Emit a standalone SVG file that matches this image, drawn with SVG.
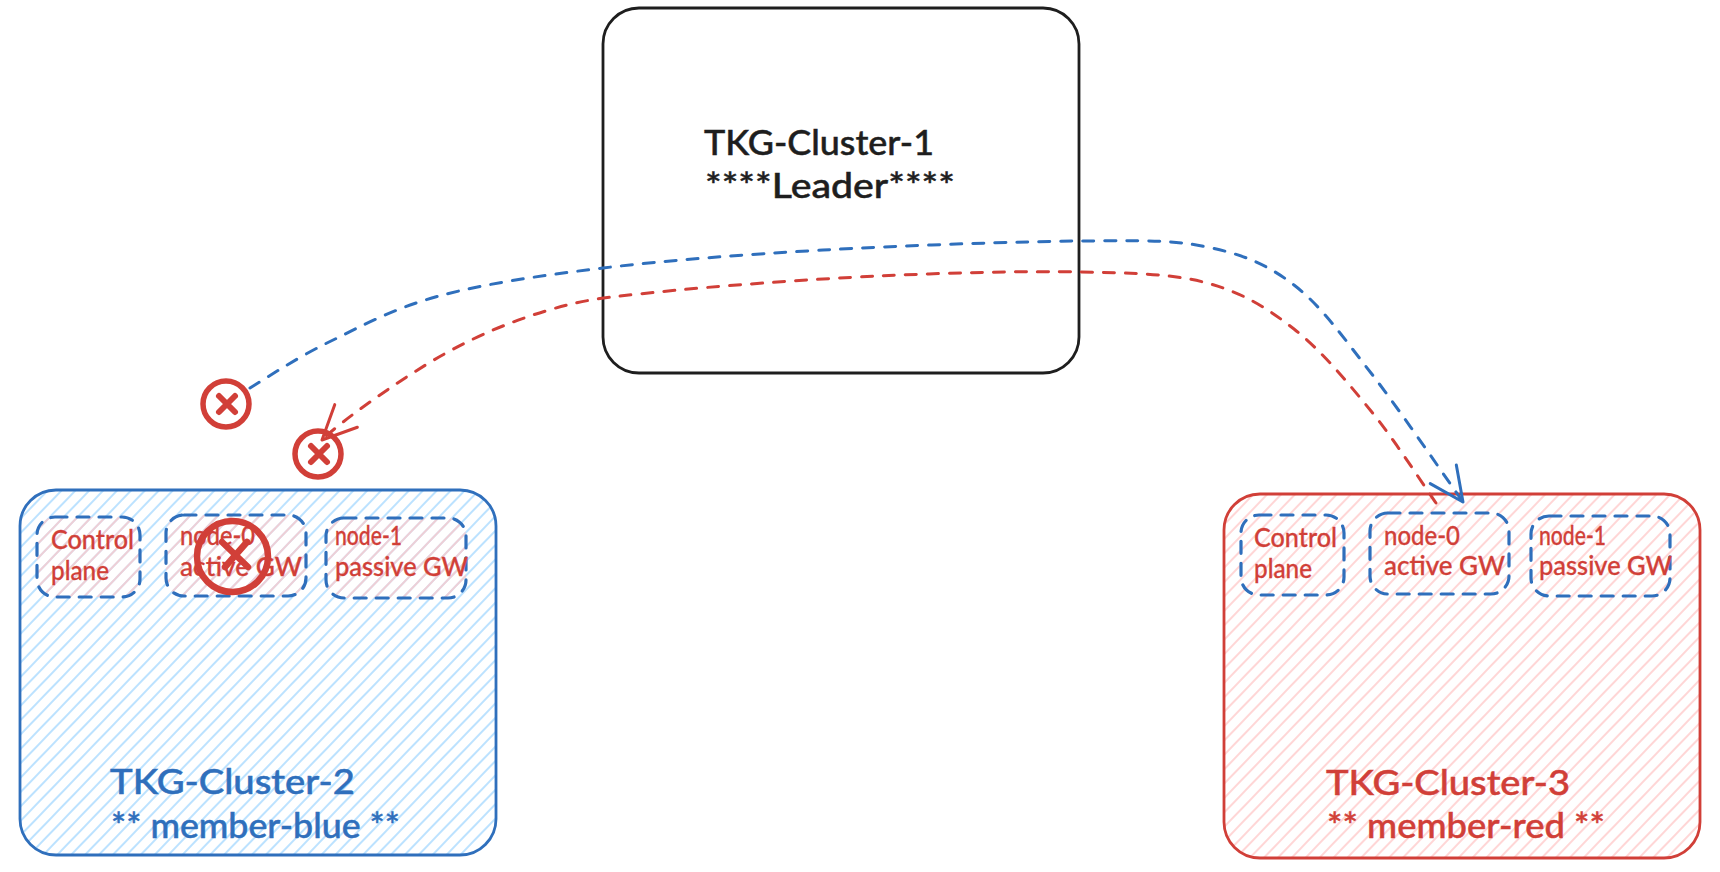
<svg xmlns="http://www.w3.org/2000/svg" width="1720" height="872" viewBox="0 0 1720 872">
<style>
text{font-family:"Lato","Open Sans","Liberation Sans",sans-serif;font-weight:500}
.t{font-size:35px}
.s{font-size:26px;fill:#d13f38;stroke:#d13f38;stroke-width:.3}
.blue{fill:#2f6fbc;stroke:#2f6fbc;stroke-width:.5}.red{fill:#d13f38;stroke:#d13f38;stroke-width:.5}.black{fill:#1e1e1e;stroke:#1e1e1e;stroke-width:.5}
.outer{stroke-width:2.8}
.inner{stroke:#2f6fbc;stroke-width:3.2;stroke-dasharray:12 10;stroke-linecap:round;fill:url(#hr)}
.conn{fill:none;stroke-width:3;stroke-dasharray:11 11;stroke-linecap:round}
.x{fill:none;stroke:#d13f38;stroke-linecap:round}
</style>
<defs>
<pattern id="hb" patternUnits="userSpaceOnUse" width="10" height="10" patternTransform="rotate(-46)"><line x1="0" y1="5" x2="10" y2="5" stroke="#a5d8ff" stroke-width="1.5"/></pattern>
<pattern id="hr" patternUnits="userSpaceOnUse" width="10" height="10" patternTransform="rotate(-46)"><line x1="0" y1="5" x2="10" y2="5" stroke="#ffc9c9" stroke-width="1.5"/></pattern>
<marker id="ab" markerUnits="userSpaceOnUse" markerWidth="42" markerHeight="42" refX="36" refY="20" orient="auto"><path d="M2,4 L36,20 L2,36" fill="none" stroke="#2f6fbc" stroke-width="3" stroke-linecap="round" stroke-linejoin="round"/></marker>
<marker id="ar" markerUnits="userSpaceOnUse" markerWidth="42" markerHeight="42" refX="36" refY="20" orient="auto"><path d="M2,4 L36,20 L2,36" fill="none" stroke="#d13f38" stroke-width="3" stroke-linecap="round" stroke-linejoin="round"/></marker>
</defs>
<rect width="1720" height="872" fill="#ffffff"/>
<g id="cluster-1">
<rect class="outer" x="603" y="8" width="476" height="365" rx="36" fill="none" stroke="#1e1e1e"/>
<text class="t black" x="704" y="155" textLength="230" lengthAdjust="spacingAndGlyphs">TKG-Cluster-1</text>
<text class="t black" x="705" y="198" textLength="250" lengthAdjust="spacingAndGlyphs">****Leader****</text>
</g>
<g id="cluster-2">
<rect class="outer" x="20" y="490" width="476" height="365" rx="36" fill="url(#hb)" stroke="#2f6fbc"/>
<text class="t blue" x="110" y="794" textLength="245" lengthAdjust="spacingAndGlyphs">TKG-Cluster-2</text>
<text class="t blue" x="111" y="838" textLength="289" lengthAdjust="spacingAndGlyphs">** member-blue **</text>
</g>
<g id="cluster-2-control">
<rect class="inner" x="37" y="517" width="103" height="80" rx="18"/>
<text class="s" x="51" y="549" textLength="83" lengthAdjust="spacingAndGlyphs">Control</text>
<text class="s" x="51" y="580" textLength="58" lengthAdjust="spacingAndGlyphs">plane</text>
</g>
<g id="cluster-2-node-0">
<rect class="inner" x="166" y="515" width="140" height="81" rx="18"/>
<text class="s" x="180" y="545" textLength="75" lengthAdjust="spacingAndGlyphs">node-0</text>
<text class="s" x="180" y="576" textLength="122" lengthAdjust="spacingAndGlyphs">active GW</text>
</g>
<g id="cluster-2-node-1">
<rect class="inner" x="326" y="518" width="140" height="80" rx="18"/>
<text class="s" x="335" y="545" textLength="67" lengthAdjust="spacingAndGlyphs">node-1</text>
<text class="s" x="335" y="576" textLength="133" lengthAdjust="spacingAndGlyphs">passive GW</text>
</g>
<g id="cluster-3">
<rect class="outer" x="1224" y="494" width="476" height="364" rx="36" fill="url(#hr)" stroke="#d13f38"/>
<text class="t red" x="1326" y="795" textLength="244" lengthAdjust="spacingAndGlyphs">TKG-Cluster-3</text>
<text class="t red" x="1327" y="838" textLength="278" lengthAdjust="spacingAndGlyphs">** member-red **</text>
</g>
<g id="cluster-3-control">
<rect class="inner" x="1241" y="515" width="103" height="80" rx="18" style="fill:none"/>
<text class="s" x="1254" y="547" textLength="83" lengthAdjust="spacingAndGlyphs">Control</text>
<text class="s" x="1254" y="578" textLength="58" lengthAdjust="spacingAndGlyphs">plane</text>
</g>
<g id="cluster-3-node-0">
<rect class="inner" x="1370" y="513" width="139" height="81" rx="18" style="fill:none"/>
<text class="s" x="1384" y="545" textLength="76" lengthAdjust="spacingAndGlyphs">node-0</text>
<text class="s" x="1384" y="575" textLength="121" lengthAdjust="spacingAndGlyphs">active GW</text>
</g>
<g id="cluster-3-node-1">
<rect class="inner" x="1531" y="516" width="139" height="80" rx="18" style="fill:none"/>
<text class="s" x="1539" y="545" textLength="67" lengthAdjust="spacingAndGlyphs">node-1</text>
<text class="s" x="1539" y="575" textLength="133" lengthAdjust="spacingAndGlyphs">passive GW</text>
</g>
<g id="connectors">
<path class="conn" stroke="#2f6fbc" marker-end="url(#ab)" d="M250,388 C263,380 297.5,357.3 329,342 C360.5,326.7 393.3,308.3 439,296 C484.7,283.7 539,275.7 603,268 C667,260.3 743.3,254.5 823,250 C902.7,245.5 1017,241.5 1081,241 C1145,240.5 1171.5,239.7 1207,247 C1242.5,254.3 1266.7,264 1294,285 C1321.3,306 1342.8,336.8 1371,373 C1399.2,409.2 1447.7,480.5 1463,502"/>
<path class="conn" stroke="#d13f38" marker-end="url(#ar)" d="M1436,503 C1425.2,487.7 1394.7,440 1371,411 C1347.3,382 1321.3,350.3 1294,329 C1266.7,307.7 1242.5,292.5 1207,283 C1171.5,273.5 1135.8,273.2 1081,272 C1026.2,270.8 948.5,272.7 878,276 C807.5,279.3 712.8,286.3 658,292 C603.2,297.7 585.5,299.2 549,310 C512.5,320.8 476.8,335.3 439,357 C401.2,378.7 341,421 322,440"/>
</g>
<g id="x-mark-1">
<circle class="x" cx="226" cy="404" r="23" stroke-width="5.5"/>
<path class="x" d="M219,396 L235,412 M235,396 L219,412" stroke-width="6"/>
</g>
<g id="x-mark-2">
<circle class="x" cx="318" cy="454" r="23" stroke-width="5.5"/>
<path class="x" d="M311,446 L327,462 M327,446 L311,462" stroke-width="6"/>
</g>
<g id="x-mark-3">
<circle class="x" cx="232.500" cy="556.500" r="35.500" stroke-width="6.500"/>
<path class="x" d="M222,542 L248,567 M247,542 L225,567" stroke-width="6.500"/>
</g>
</svg>
